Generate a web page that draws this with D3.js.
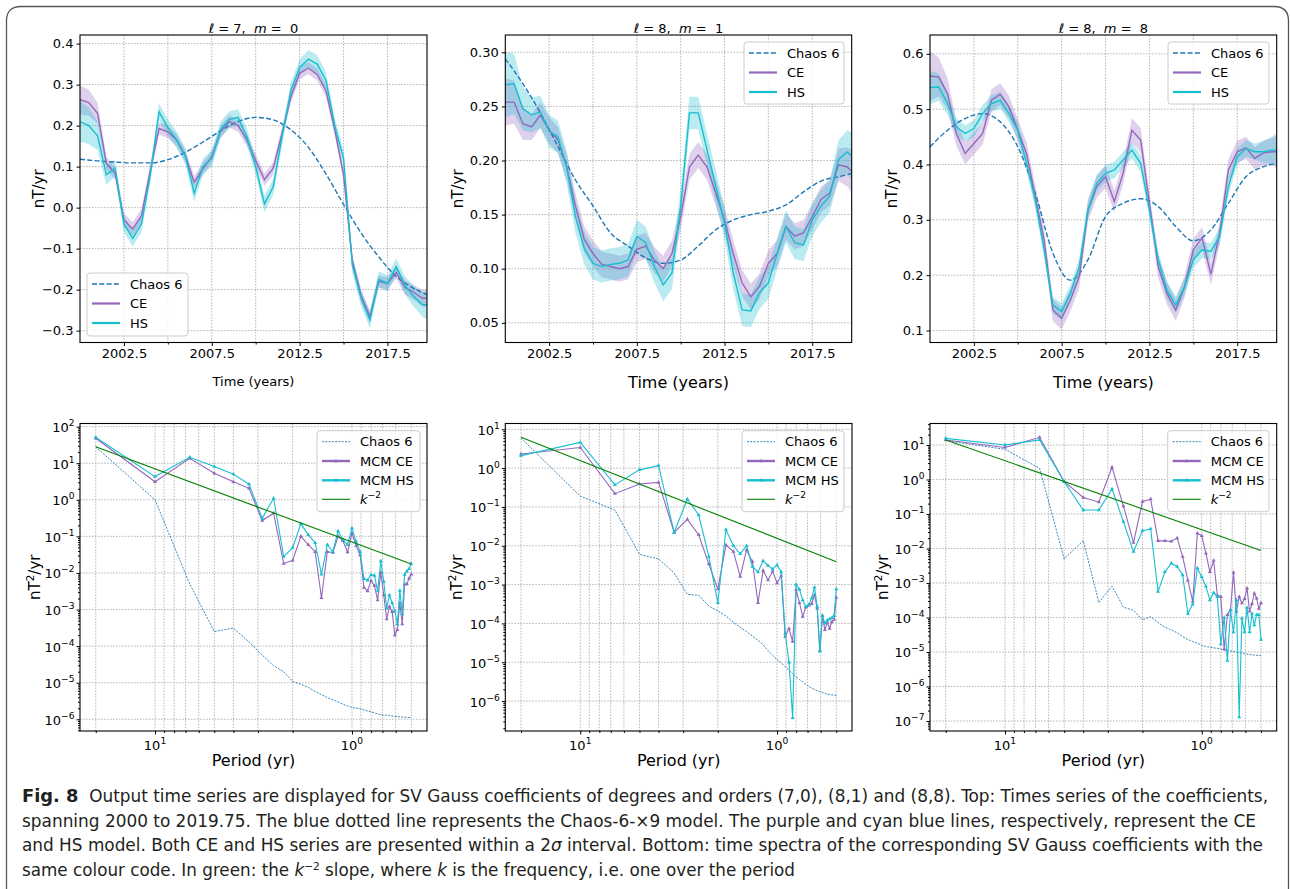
<!DOCTYPE html>
<html lang="en">
<head>
<meta charset="UTF-8">
<title>Fig. 8 - SV Gauss coefficients</title>
<script src="https://d3js.org/d3.v7.min.js"></script>
<style>
  body { margin: 0; background: #fff; }
  svg { display: block; }
  text { font-family: "DejaVu Sans", sans-serif; fill: #000; }
</style>
</head>
<body>
<svg id="fig" width="1290" height="889"></svg>
<script>
// ---------- data: time series (2000 .. 2019.75, every half year) ----------
const years = d3.range(2000, 2019.6, 0.5).concat([2019.75]);
const chaosYears = d3.range(2000, 2020, 1).concat([2019.75]);
const timeTicks = [2002.5, 2007.5, 2012.5, 2017.5];
const timeMinor = [2005, 2010, 2015];

// l=7, m=0
const ce70 = [0.263,0.256,0.23,0.108,0.084,-0.03,-0.052,-0.02,0.09,0.193, 0.185,0.165,0.125,0.062,0.095,0.124,0.185,0.21,0.2,0.165,
  0.115,0.068,0.096,0.181,0.27,0.328,0.34,0.325,0.285,0.19, 0.08,-0.13,-0.215,-0.266,-0.18,-0.185,-0.158,-0.195,-0.207,-0.221, -0.221];
const hs70 = [0.21,0.2,0.175,0.08,0.096,-0.04,-0.075,-0.04,0.08,0.234, 0.195,0.165,0.125,0.035,0.1,0.12,0.19,0.215,0.22,0.173,
  0.1,0.009,0.051,0.173,0.285,0.342,0.362,0.35,0.31,0.2, 0.12,-0.14,-0.221,-0.274,-0.175,-0.185,-0.144,-0.19,-0.217,-0.237, -0.237];
const ce70Band = [0.035,0.032,0.025,0.016,0.015,0.017,0.017,0.017,0.015,0.015, 0.015,0.015,0.015,0.015,0.015,0.015,0.015,0.015,0.015,0.015,
  0.015,0.015,0.015,0.015,0.015,0.015,0.015,0.015,0.015,0.015, 0.015,0.015,0.015,0.015,0.015,0.015,0.015,0.017,0.018,0.02, 0.022];
const hs70Band = [0.05,0.045,0.035,0.025,0.02,0.02,0.02,0.02,0.02,0.02, 0.02,0.02,0.02,0.02,0.02,0.02,0.02,0.02,0.02,0.02,
  0.02,0.02,0.02,0.02,0.02,0.02,0.022,0.022,0.02,0.02, 0.02,0.02,0.02,0.02,0.02,0.02,0.02,0.022,0.025,0.03, 0.035];
const chaos70 = [0.118,0.114,0.111,0.109,0.109,0.117,0.135,0.16,0.187,0.21,0.22,0.214,0.19,0.147,0.082,0.008,-0.062,-0.12,-0.168,-0.197,-0.212];

// l=8, m=1
const ce81 = [0.254,0.254,0.234,0.231,0.242,0.228,0.219,0.194,0.158,0.127, 0.114,0.104,0.102,0.1,0.102,0.118,0.121,0.108,0.1,0.114,
  0.148,0.194,0.205,0.194,0.17,0.145,0.114,0.087,0.074,0.084, 0.105,0.114,0.139,0.13,0.133,0.148,0.164,0.17,0.196,0.194, 0.19];
const hs81 = [0.27,0.271,0.248,0.242,0.245,0.227,0.222,0.194,0.148,0.119, 0.105,0.102,0.104,0.105,0.108,0.13,0.124,0.102,0.085,0.096,
  0.158,0.244,0.244,0.21,0.176,0.142,0.096,0.062,0.061,0.078, 0.087,0.114,0.139,0.124,0.122,0.145,0.158,0.167,0.201,0.208, 0.204];
const ce81Band = [0.022,0.02,0.015,0.012,0.012,0.012,0.012,0.012,0.012,0.012, 0.012,0.012,0.012,0.012,0.012,0.012,0.012,0.012,0.012,0.012,
  0.012,0.012,0.012,0.012,0.012,0.012,0.012,0.012,0.012,0.012, 0.012,0.012,0.012,0.012,0.012,0.012,0.012,0.012,0.015,0.018, 0.02];
const hs81Band = [0.03,0.028,0.02,0.016,0.015,0.015,0.015,0.015,0.015,0.015, 0.015,0.015,0.015,0.015,0.015,0.015,0.015,0.015,0.015,0.015,
  0.015,0.015,0.015,0.015,0.015,0.015,0.015,0.015,0.015,0.015, 0.015,0.015,0.015,0.015,0.015,0.015,0.015,0.015,0.018,0.02, 0.022];
const chaos81 = [0.294,0.271,0.244,0.213,0.182,0.158,0.133,0.121,0.11,0.105,0.108,0.121,0.136,0.145,0.15,0.153,0.159,0.171,0.181,0.185,0.188];

// l=8, m=8
const ce88 = [0.56,0.558,0.528,0.456,0.42,0.438,0.456,0.516,0.527,0.504, 0.462,0.42,0.342,0.264,0.137,0.122,0.155,0.197,0.318,0.36,
  0.378,0.333,0.384,0.462,0.444,0.33,0.215,0.167,0.137,0.179, 0.246,0.267,0.202,0.276,0.39,0.423,0.43,0.411,0.421,0.423, 0.423];
const hs88 = [0.539,0.54,0.51,0.468,0.456,0.465,0.492,0.51,0.516,0.492, 0.462,0.402,0.336,0.246,0.146,0.134,0.167,0.215,0.318,0.366,
  0.384,0.39,0.408,0.426,0.402,0.318,0.228,0.173,0.146,0.179, 0.228,0.246,0.243,0.27,0.36,0.414,0.429,0.423,0.423,0.426, 0.426];
const ce88Band = [0.045,0.035,0.028,0.022,0.02,0.02,0.02,0.02,0.02,0.02, 0.02,0.02,0.02,0.02,0.02,0.02,0.02,0.02,0.02,0.02,
  0.02,0.02,0.02,0.022,0.022,0.02,0.02,0.02,0.02,0.02, 0.02,0.02,0.02,0.02,0.02,0.02,0.02,0.02,0.022,0.025, 0.03];
const hs88Band = [0.03,0.025,0.02,0.015,0.015,0.015,0.015,0.015,0.015,0.015, 0.015,0.015,0.015,0.015,0.015,0.015,0.015,0.015,0.015,0.015,
  0.015,0.015,0.015,0.015,0.015,0.015,0.015,0.015,0.015,0.015, 0.015,0.015,0.015,0.015,0.015,0.015,0.015,0.015,0.02,0.025, 0.03];
const chaos88 = [0.432,0.462,0.483,0.492,0.477,0.432,0.348,0.24,0.191,0.228,0.306,0.33,0.338,0.324,0.288,0.262,0.282,0.33,0.378,0.396,0.402];

// ---------- data: spectra (periods 20/k yr, k = 1..40) ----------
const periods = d3.range(1, 41).map(k => 20 / k);
const periodTicks = [10, 1];
const periodMinor = [20, 9, 8, 7, 6, 5, 4, 3, 2, 0.9, 0.8, 0.7, 0.6, 0.5];

const spCe70 = [48,3.1,13.6,5.3,3.1,2.06,0.27,0.43,0.018,0.022, 0.1,0.059,0.038,0.0021,0.038,0.036,0.1,0.075,0.037,0.12,
  0.055,0.031,0.004,0.0032,0.0062,0.0045,0.0018,0.0104,0.0025,0.00055, 0.0012,0.00087,0.0002,0.00028,0.0015,0.0004,0.0049,0.005,0.0071,0.0092];
const spHs70 = [51,4.3,14.5,8.1,5.0,2.7,0.31,1.1,0.028,0.049, 0.22,0.11,0.067,0.0092,0.059,0.038,0.14,0.08,0.059,0.165,
  0.072,0.038,0.0069,0.0063,0.0089,0.0085,0.0032,0.021,0.0058,0.0011, 0.0025,0.0015,0.0009,0.0004,0.0033,0.00075,0.009,0.011,0.013,0.018];
const spChaos70 = [28,1.0,0.005,0.00025,0.00031,0.00013,5.7e-5,2.9e-5,2.0e-5,1.07e-5, 9.1e-6,7.4e-6,5.8e-6,4.7e-6,3.9e-6,3.4e-6,3.0e-6,2.6e-6,2.3e-6,2.1e-6,
  2.0e-6,1.95e-6,1.8e-6,1.7e-6,1.6e-6,1.5e-6,1.4e-6,1.35e-6,1.3e-6,1.28e-6, 1.26e-6,1.23e-6,1.2e-6,1.18e-6,1.17e-6,1.15e-6,1.14e-6,1.13e-6,1.12e-6,1.1e-6];
const slope70 = [28, 0.0175];

const spCe81 = [2.3,3.4,0.22,0.39,0.43,0.022,0.048,0.019,0.0034,0.00077, 0.0104,0.0071,0.0016,0.0078,0.0039,0.00034,0.0023,0.0013,0.0022,0.0011,
  0.0017,4.6e-5,7.4e-5,3.4e-5,7.4e-4,3.4e-4,1.5e-4,2.6e-4,2.9e-4,3.2e-4, 5.4e-4,2.4e-4,2.0e-5,1.6e-4,6.8e-5,1.07e-4,7.4e-5,1.1e-4,1.25e-4,4.6e-4];
const spHs81 = [2.1,4.6,0.37,0.9,1.16,0.022,0.16,0.062,0.0053,0.00034, 0.026,0.01,0.0062,0.01,0.0029,0.0021,0.0041,0.0031,0.0025,0.0032,
  0.0021,5.5e-5,1.0e-5,3.7e-7,1.0e-3,7.5e-4,4.0e-4,2.7e-4,3.0e-4,4.5e-4, 8.5e-4,2.7e-4,1.9e-5,1.6e-4,1.0e-4,1.2e-4,1.3e-4,1.4e-4,1.6e-4,7.7e-4];
const spChaos81 = [5.9,0.19,0.083,0.006,0.0046,0.002,0.00056,0.00053,0.00028,0.00021, 1.55e-4,1.07e-4,7.9e-5,6.2e-5,4.7e-5,3.7e-5,2.8e-5,2.0e-5,1.5e-5,1.17e-5,
  9.7e-6,7.6e-6,6.3e-6,5.1e-6,4.2e-6,3.6e-6,3.1e-6,2.7e-6,2.4e-6,2.15e-6, 2.0e-6,1.85e-6,1.75e-6,1.65e-6,1.6e-6,1.5e-6,1.47e-6,1.45e-6,1.42e-6,1.4e-6];
const slope81 = [6.2, 0.0039];

const spCe88 = [14,8.5,16.7,0.86,0.3,0.22,2.25,0.17,0.0148,0.23, 0.27,0.0166,0.0166,0.016,0.02,0.0058,0.0012,0.00029,0.0275,0.0234,
  0.0072,0.0021,0.0045,4.4e-4,4.0e-4,1.2e-5,1.2e-4,1.7e-4,2.0e-3,1.5e-4, 4.0e-4,2.6e-4,3.5e-4,7e-4,1.5e-4,2.5e-4,5e-4,3.6e-4,1.8e-4,2.6e-4];
const spHs88 = [15.6,10,14,0.86,0.13,0.13,0.53,0.06,0.0081,0.033, 0.037,0.00056,0.0021,0.0037,0.003,0.0017,1.3e-4,2.4e-4,0.0027,0.0015,
  0.0008,0.00032,0.00052,4e-4,1.7e-5,1.0e-4,5.6e-6,1.6e-4,3.8e-5,3.2e-4, 1.3e-7,9.4e-5,3.8e-5,1.9e-4,3.8e-5,1.3e-4,6e-5,1.2e-4,1.2e-4,2.3e-5];
const spChaos88 = [13.4,7.5,2.1,0.005,0.017,0.00027,0.00081,0.0002,0.00016,8.5e-5, 1.05e-4,7.1e-5,5.2e-5,4.4e-5,3.6e-5,2.8e-5,2.3e-5,2.0e-5,1.8e-5,1.55e-5,
  1.45e-5,1.38e-5,1.32e-5,1.28e-5,1.22e-5,1.17e-5,1.12e-5,1.08e-5,1.04e-5,1.0e-5, 9.6e-6,9.3e-6,9.0e-6,8.7e-6,8.5e-6,8.3e-6,8.1e-6,8.0e-6,7.9e-6,7.8e-6];
const slope88 = [14, 0.0088];

// ---------- style ----------
const svg = d3.select("#fig");
const COL = { chaos: "#1f77b4", ce: "#9467bd", hs: "#17becf", k2: "#008000" };
const GRID = "#b0b0b0";
const FONT = "DejaVu Sans, sans-serif";
const defs = svg.append("defs");
const tri = d3.symbol().type(d3.symbolTriangle).size(7)();

function gridLines(g, xs, ys, x, y, box) {
  const [x0, x1, y0, y1] = box;
  const gg = g.append("g").attr("stroke", GRID).attr("stroke-width", 0.9).attr("stroke-dasharray", "1.6,1.4");
  gg.selectAll("line.v").data(xs).join("line").attr("class", "v")
    .attr("x1", d => x(d)).attr("x2", d => x(d)).attr("y1", y0).attr("y2", y1);
  gg.selectAll("line.h").data(ys).join("line").attr("class", "h")
    .attr("x1", x0).attr("x2", x1).attr("y1", d => y(d)).attr("y2", d => y(d));
}

function clipFor(id, box) {
  const [x0, x1, y0, y1] = box;
  defs.append("clipPath").attr("id", id).append("rect")
    .attr("x", x0).attr("y", y0).attr("width", x1 - x0).attr("height", y1 - y0);
  return `url(#${id})`;
}

function styleAxis(a) {
  a.attr("font-family", FONT).attr("font-size", 13);
  a.select(".domain").remove();
  a.selectAll(".tick line").attr("stroke-width", 1);
}

function spine(g, box) {
  const [x0, x1, y0, y1] = box;
  g.append("rect").attr("x", x0).attr("y", y0).attr("width", x1 - x0).attr("height", y1 - y0)
    .attr("fill", "none").attr("stroke", "#000").attr("stroke-width", 1.1);
}

function supText(t, parts) {
  // parts: [text, kind] where kind in {n, i, sup}
  let up = false;
  parts.forEach(([s, kind]) => {
    const sp = t.append("tspan").text(s);
    if (kind === "i") sp.attr("font-style", "italic");
    if (kind === "sup") { sp.attr("font-size", "0.7em").attr("dy", -6); up = true; }
    else if (up) { sp.attr("dy", 6); up = false; }
  });
}

function legend(g, lb, items, rows) {
  const [bx, by, bw, bh] = lb;
  g.append("rect").attr("x", bx).attr("y", by).attr("width", bw).attr("height", bh).attr("rx", 3)
    .attr("fill", "#fff").attr("fill-opacity", 0.85).attr("stroke", "#cccccc").attr("stroke-width", 1);
  items.forEach((it, i) => {
    const yy = by + rows[i];
    g.append("line").attr("x1", bx + 5).attr("x2", bx + 33).attr("y1", yy).attr("y2", yy)
      .attr("stroke", it.color).attr("stroke-width", it.width).attr("stroke-dasharray", it.dash || null);
    if (it.marker) g.append("path").attr("d", tri).attr("transform", `translate(${bx + 19},${yy})`).attr("fill", it.color);
    const t = g.append("text").attr("x", bx + 43).attr("y", yy + 4.7).attr("font-size", 13);
    supText(t, it.label);
  });
}

function yLabel(g, x, y, parts, size) {
  const t = g.append("text").attr("transform", `translate(${x},${y}) rotate(-90)`)
    .attr("text-anchor", "middle").attr("dy", "0.35em").attr("font-size", size);
  supText(t, parts);
}

// ---------- top row: time series ----------
const topPanels = [
  { id: "t70", l: 7, m: 0, box: [80, 427, 35, 342.5], yDom: [-0.329, 0.421], yTicks: [-0.3, -0.2, -0.1, 0, 0.1, 0.2, 0.3, 0.4], yFmt: ".1f",
    ce: ce70, hs: hs70, ceBand: ce70Band, hsBand: hs70Band, chaos: chaos70, lb: [87, 273, 101, 63], yLabX: 39, xLabSize: 13, xLabY: 386 },
  { id: "t81", l: 8, m: 1, box: [505.3, 851.7, 35, 342.5], yDom: [0.0318, 0.316], yTicks: [0.05, 0.1, 0.15, 0.2, 0.25, 0.3], yFmt: ".2f",
    ce: ce81, hs: hs81, ceBand: ce81Band, hsBand: hs81Band, chaos: chaos81, lb: [744, 42, 100, 62], yLabX: 458, xLabSize: 16, xLabY: 388 },
  { id: "t88", l: 8, m: 8, box: [930, 1276.7, 35, 342.5], yDom: [0.0783, 0.634], yTicks: [0.1, 0.2, 0.3, 0.4, 0.5, 0.6], yFmt: ".1f",
    ce: ce88, hs: hs88, ceBand: ce88Band, hsBand: hs88Band, chaos: chaos88, lb: [1168, 42, 101, 62], yLabX: 892, xLabSize: 16, xLabY: 388 }
];

topPanels.forEach(p => {
  const [x0, x1, y0, y1] = p.box;
  const x = d3.scaleLinear().domain([2000, 2019.75]).range([x0, x1]);
  const y = d3.scaleLinear().domain(p.yDom).range([y1, y0]);
  const g = svg.append("g");

  gridLines(g, timeTicks.concat(timeMinor), p.yTicks, x, y, p.box);

  const plot = g.append("g").attr("clip-path", clipFor("clip-" + p.id, p.box));
  const idx = d3.range(years.length);
  const band = (v, b) => d3.area().x(i => x(years[i])).y0(i => y(v[i] - b[i])).y1(i => y(v[i] + b[i]))(idx);
  const path = v => d3.line().x(i => x(years[i])).y(i => y(v[i]))(idx);
  const chaosPath = d3.line().curve(d3.curveMonotoneX).x(i => x(chaosYears[i])).y(i => y(p.chaos[i]))(d3.range(chaosYears.length));

  plot.append("path").attr("d", band(p.ce, p.ceBand)).attr("fill", COL.ce).attr("fill-opacity", 0.3);
  plot.append("path").attr("d", band(p.hs, p.hsBand)).attr("fill", COL.hs).attr("fill-opacity", 0.3);
  plot.append("path").attr("d", chaosPath).attr("fill", "none").attr("stroke", COL.chaos)
    .attr("stroke-width", 1.4).attr("stroke-dasharray", "5,2.3");
  plot.append("path").attr("d", path(p.ce)).attr("fill", "none").attr("stroke", COL.ce).attr("stroke-width", 1.4);
  plot.append("path").attr("d", path(p.hs)).attr("fill", "none").attr("stroke", COL.hs).attr("stroke-width", 1.4);

  const xa = g.append("g").attr("transform", `translate(0,${y1})`)
    .call(d3.axisBottom(x).tickValues(timeTicks).tickFormat(d3.format(".1f")).tickSize(3.5).tickSizeOuter(0));
  const xm = g.append("g").attr("transform", `translate(0,${y1})`)
    .call(d3.axisBottom(x).tickValues(timeMinor).tickFormat("").tickSize(2).tickSizeOuter(0));
  const ya = g.append("g").attr("transform", `translate(${x0},0)`)
    .call(d3.axisLeft(y).tickValues(p.yTicks).tickFormat(d3.format(p.yFmt)).tickSize(3.5).tickSizeOuter(0));
  [xa, xm, ya].forEach(styleAxis);
  spine(g, p.box);

  const t = g.append("text").attr("x", (x0 + x1) / 2).attr("y", y0 - 2.5).attr("text-anchor", "middle")
    .attr("font-size", 13).style("white-space", "pre");
  supText(t, [["ℓ", "i"], [` = ${p.l},  `, "n"], ["m", "i"], [` =  ${p.m}`, "n"]]);

  g.append("text").attr("x", (x0 + x1) / 2).attr("y", p.xLabY).attr("text-anchor", "middle")
    .attr("font-size", p.xLabSize).text("Time (years)");
  yLabel(g, p.yLabX, (y0 + y1) / 2, [["nT/yr", "n"]], 15);

  legend(g, p.lb, [
    { color: COL.chaos, width: 1.4, dash: "5,2.3", label: [["Chaos 6", "n"]] },
    { color: COL.ce, width: 2.2, label: [["CE", "n"]] },
    { color: COL.hs, width: 2.2, label: [["HS", "n"]] }
  ], [11, 30.5, 50]);
});

// ---------- bottom row: spectra ----------
const botPanels = [
  { id: "s70", box: [80, 427, 423.5, 731], yDom: [Math.pow(10, -6.32), Math.pow(10, 2.085)], decades: [-6, -5, -4, -3, -2, -1, 0, 1, 2],
    ce: spCe70, hs: spHs70, chaos: spChaos70, slope: slope70, lb: [317, 430.7, 103, 81], yLabX: 35 },
  { id: "s81", box: [505.3, 852, 423.5, 731], yDom: [Math.pow(10, -6.771), Math.pow(10, 1.149)], decades: [-6, -5, -4, -3, -2, -1, 0, 1],
    ce: spCe81, hs: spHs81, chaos: spChaos81, slope: slope81, lb: [742, 430.7, 102, 81], yLabX: 456.7 },
  { id: "s88", box: [930, 1276.7, 423.5, 731], yDom: [Math.pow(10, -7.29), Math.pow(10, 1.623)], decades: [-7, -6, -5, -4, -3, -2, -1, 0, 1],
    ce: spCe88, hs: spHs88, chaos: spChaos88, slope: slope88, lb: [1167.7, 430.7, 101.3, 81], yLabX: 883 }
];

botPanels.forEach(p => {
  const [x0, x1, y0, y1] = p.box;
  const x = d3.scaleLog().domain([24.04, 0.416]).range([x0, x1]);
  const y = d3.scaleLog().domain(p.yDom).range([y1, y0]);
  const g = svg.append("g");
  const majors = p.decades.map(e => Math.pow(10, e));
  const minors = [];
  d3.range(p.decades[0] - 1, p.decades[p.decades.length - 1] + 1).forEach(e => {
    d3.range(2, 10).forEach(m => {
      const v = m * Math.pow(10, e);
      if (v > p.yDom[0] && v < p.yDom[1]) minors.push(v);
    });
  });

  gridLines(g, periodTicks.concat(periodMinor), majors, x, y, p.box);

  const plot = g.append("g").attr("clip-path", clipFor("clip-" + p.id, p.box));
  const idx = d3.range(periods.length);
  const path = v => d3.line().x(i => x(periods[i])).y(i => y(v[i]))(idx);

  plot.append("path").attr("d", path(p.chaos)).attr("fill", "none").attr("stroke", COL.chaos)
    .attr("stroke-width", 0.9).attr("stroke-dasharray", "2,1.3");
  [[p.ce, COL.ce], [p.hs, COL.hs]].forEach(([v, c]) => {
    plot.append("path").attr("d", path(v)).attr("fill", "none").attr("stroke", c).attr("stroke-width", 1.1);
    plot.append("g").selectAll("path").data(idx).join("path").attr("d", tri)
      .attr("transform", i => `translate(${x(periods[i])},${y(v[i])})`).attr("fill", c);
  });
  plot.append("line")
    .attr("x1", x(periods[0])).attr("y1", y(p.slope[0]))
    .attr("x2", x(periods[periods.length - 1])).attr("y2", y(p.slope[1]))
    .attr("stroke", COL.k2).attr("stroke-width", 1.1);

  const xa = g.append("g").attr("transform", `translate(0,${y1})`)
    .call(d3.axisBottom(x).tickValues(periodTicks).tickFormat("").tickSize(3.5).tickSizeOuter(0));
  const xm = g.append("g").attr("transform", `translate(0,${y1})`)
    .call(d3.axisBottom(x).tickValues(periodMinor).tickFormat("").tickSize(2).tickSizeOuter(0));
  const ya = g.append("g").attr("transform", `translate(${x0},0)`)
    .call(d3.axisLeft(y).tickValues(majors).tickFormat("").tickSize(3.5).tickSizeOuter(0));
  const ym = g.append("g").attr("transform", `translate(${x0},0)`)
    .call(d3.axisLeft(y).tickValues(minors).tickFormat("").tickSize(2).tickSizeOuter(0));
  [xa, xm, ya, ym].forEach(styleAxis);
  spine(g, p.box);

  periodTicks.forEach(v => {
    const t = g.append("text").attr("x", x(v)).attr("y", y1 + 19).attr("text-anchor", "middle").attr("font-size", 13);
    supText(t, [["10", "n"], [String(Math.round(Math.log10(v))), "sup"]]);
  });
  p.decades.forEach(e => {
    const t = g.append("text").attr("x", x0 - 5.5).attr("y", y(Math.pow(10, e)) + 5.5).attr("text-anchor", "end").attr("font-size", 13);
    supText(t, [["10", "n"], [e < 0 ? "\u2212" + (-e) : String(e), "sup"]]);
  });

  g.append("text").attr("x", (x0 + x1) / 2).attr("y", 766).attr("text-anchor", "middle")
    .attr("font-size", 16).text("Period (yr)");
  yLabel(g, p.yLabX, (y0 + y1) / 2, [["nT", "n"], ["2", "sup"], ["/yr", "n"]], 15);

  legend(g, p.lb, [
    { color: COL.chaos, width: 0.9, dash: "2,1.3", label: [["Chaos 6", "n"]] },
    { color: COL.ce, width: 2.4, marker: true, label: [["MCM CE", "n"]] },
    { color: COL.hs, width: 2.4, marker: true, label: [["MCM HS", "n"]] },
    { color: COL.k2, width: 1.1, label: [["k", "i"], ["\u22122", "sup"]] }
  ], [11, 30.3, 49.6, 68.6]);
});

// ---------- frame and caption ----------
svg.append("path")
  .attr("d", "M6.5,889 V21 Q6.5,6.5 21,6.5 H1274 Q1288.5,6.5 1288.5,21 V889")
  .attr("fill", "none").attr("stroke", "#555").attr("stroke-width", 1.3);

const capFont = "'DejaVu Sans Condensed', 'Liberation Sans Narrow', 'Arial Narrow', 'DejaVu Sans', sans-serif";
const caption = [
  { y: 802, len: 1246, parts: [["Fig. 8", "b"], ["  Output time series are displayed for SV Gauss coefficients of degrees and orders (7,0), (8,1) and (8,8). Top: Times series of the coefficients,", "n"]] },
  { y: 826.5, len: 1234, parts: [["spanning 2000 to 2019.75. The blue dotted line represents the Chaos-6-\u00d79 model. The purple and cyan blue lines, respectively, represent the CE", "n"]] },
  { y: 851, len: 1241, parts: [["and HS model. Both CE and HS series are presented within a 2", "n"], ["\u03c3", "i"], [" interval. Bottom: time spectra of the corresponding SV Gauss coefficients with the", "n"]] },
  { y: 875.5, len: 773, parts: [["same colour code. In green: the ", "n"], ["k", "i"], ["\u22122", "sup"], [" slope, where ", "n"], ["k", "i"], [" is the frequency, i.e. one over the period", "n"]] }
];
caption.forEach(c => {
  const t = svg.append("text").attr("x", 22).attr("y", c.y).attr("font-size", 17.5)
    .style("font-family", capFont).style("fill", "#231f20").style("white-space", "pre")
    .attr("textLength", c.len).attr("lengthAdjust", "spacingAndGlyphs");
  let up = false;
  c.parts.forEach(([s, kind]) => {
    const sp = t.append("tspan").text(s);
    if (kind === "b") sp.attr("font-weight", "bold").attr("font-size", 18.5);
    if (kind === "i") sp.attr("font-style", "italic");
    if (kind === "sup") { sp.attr("font-size", 11).attr("dy", -6); up = true; }
    else if (up) { sp.attr("dy", 6); up = false; }
  });
});
</script>
</body>
</html>
